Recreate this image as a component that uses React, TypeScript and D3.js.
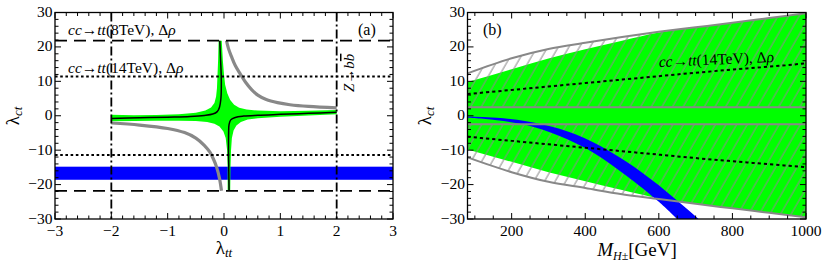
import React from "react";
import * as d3 from "d3";

// ---------- panel (a) : lambda_ct vs lambda_tt ----------
const ttTicks = [-3, -2, -1, 0, 1, 2, 3];
const ctTicks = [-30, -20, -10, 0, 10, 20, 30];

const limit8TeV = 21.8; // cc->tt (8TeV), dashed
const limit14TeV = 11.4; // cc->tt (14TeV), dotted
const zbbLimit = 2; // Z->bb, dash-dot
const blueBandA = [-14.8, -18.6];

const blackLeft: [number, number][] = [
  [-2, -0.8], [-1.5, -0.6], [-1, -0.4], [-0.6, -0.2], [-0.35, 0.1], [-0.2, 0.5],
  [-0.12, 1.2], [-0.08, 2.5], [-0.055, 5], [-0.048, 8], [-0.05, 12], [-0.06, 16], [-0.075, 21.8],
];
const blackRight: [number, number][] = [
  [0.09, -21.8], [0.085, -16], [0.08, -10], [0.082, -5], [0.09, -2.5], [0.12, -1.2],
  [0.2, -0.5], [0.35, -0.1], [0.6, 0.15], [1, 0.4], [1.5, 0.7], [2, 1.0],
];
const grayRight: [number, number][] = [
  [0.044, 21.8], [0.08, 19.5], [0.13, 17.3], [0.2, 14.6], [0.28, 12.4], [0.38, 9.8],
  [0.49, 7.6], [0.6, 6.0], [0.75, 4.7], [0.95, 3.8], [1.17, 3.2], [1.5, 2.7], [2, 2.3],
];
const grayLeft: [number, number][] = [
  [-2, -2.1], [-1.5, -2.7], [-1, -3.7], [-0.7, -4.9], [-0.5, -6.5], [-0.35, -8.6],
  [-0.25, -10.6], [-0.19, -12.5], [-0.13, -15], [-0.08, -18.2], [-0.045, -21.8],
];
const greenStar: [number, number][] = [
  [-0.095, 21.8], [-0.04, 21.8], [-0.02, 16], [0.0, 12], [0.02, 9], [0.06, 6.5], [0.11, 4.6],
  [0.18, 3.2], [0.27, 2.3], [0.4, 1.8], [0.6, 1.5], [1, 1.3], [1.5, 1.45], [2, 1.7],
  [2, 0.4], [1.5, 0.05], [1, -0.3], [0.6, -0.7], [0.42, -1.1], [0.3, -1.8], [0.22, -2.8],
  [0.17, -4.3], [0.14, -6.5], [0.125, -10], [0.115, -15], [0.11, -21.8],
  [0.065, -21.8], [0.065, -15], [0.055, -10], [0.03, -6.5], [-0.01, -4.6], [-0.08, -3.1],
  [-0.17, -2.3], [-0.3, -1.8], [-0.5, -1.55], [-0.8, -1.45], [-1.2, -1.45], [-1.6, -1.55], [-2, -1.6],
  [-2, 0.3], [-1.6, 0.15], [-1.2, 0.2], [-0.8, 0.45], [-0.5, 0.9], [-0.33, 1.5], [-0.23, 2.4],
  [-0.17, 3.7], [-0.14, 5.6], [-0.125, 8], [-0.115, 12], [-0.105, 16],
];

// ---------- panel (b) : lambda_ct vs M_H+- ----------
const massTicks = [200, 400, 600, 800, 1000];
const mass = [80, 200, 300, 400, 500, 600, 700, 800, 900, 1000];
const outerUp = [12.3, 16.7, 19.4, 21.2, 22.9, 24.4, 25.7, 27.0, 28.4, 29.8];
const outerDown = [-12.1, -16.4, -19.2, -21.0, -22.8, -24.2, -25.6, -26.9, -28.2, -29.5];
const greenUp = [9.8, 13.5, 16.6, 19.3, 21.8, 24.2, 25.7, 27.0, 28.4, 29.8];
const greenDown = [-9.8, -13.4, -16.4, -19.0, -21.6, -24.0, -25.6, -26.9, -28.2, -29.5];
const innerBand = 2.5;
const dotted14Up = [6.3, 7.5, 8.5, 9.5, 10.5, 11.5, 12.5, 13.4, 14.3, 15.2];
const dotted14Down = [-6.1, -7.3, -8.3, -9.3, -10.3, -11.3, -12.3, -13.2, -14.1, -14.9];
const blueTopMass = [80, 160, 240, 330, 420, 510, 600, 660, 708];
const blueTop = [-0.2, -0.6, -1.6, -3.8, -7.6, -13.2, -20.2, -25.6, -30];
const blueBotMass = [80, 160, 240, 330, 420, 510, 600, 650];
const blueBot = [-0.6, -1.3, -2.7, -5.9, -10.6, -17.3, -25.0, -30];

const FONT = "'Liberation Serif', 'Times New Roman', Times, serif";
const boxA = { left: 55, right: 393, top: 12.5, bottom: 219 };
const boxB = { left: 467.5, right: 806, top: 12.5, bottom: 219 };

const fmt = (v: number) => String(v).replace("-", "\u2212");

function Frame({ x, y, box, xMajor, xMinor, yMajor, yMinor }: any) {
  const lines: any[] = [];
  const push = (x1: number, y1: number, x2: number, y2: number, k: string) =>
    lines.push(<line key={k} x1={x1} y1={y1} x2={x2} y2={y2} stroke="#000" strokeWidth={1} />);
  xMajor.forEach((t: number, i: number) => {
    push(x(t), box.bottom, x(t), box.bottom - 6, "xb" + i);
    push(x(t), box.top, x(t), box.top + 6, "xt" + i);
  });
  xMinor.forEach((t: number, i: number) => {
    push(x(t), box.bottom, x(t), box.bottom - 3.5, "xmb" + i);
    push(x(t), box.top, x(t), box.top + 3.5, "xmt" + i);
  });
  yMajor.forEach((t: number, i: number) => {
    push(box.left, y(t), box.left + 6, y(t), "yl" + i);
    push(box.right, y(t), box.right - 6, y(t), "yr" + i);
  });
  yMinor.forEach((t: number, i: number) => {
    push(box.left, y(t), box.left + 3.5, y(t), "yml" + i);
    push(box.right, y(t), box.right - 3.5, y(t), "ymr" + i);
  });
  return (
    <g>
      {lines}
      <rect x={box.left} y={box.top} width={box.right - box.left} height={box.bottom - box.top}
        fill="none" stroke="#000" strokeWidth={1.3} />
      {xMajor.map((t: number) => (
        <text key={"xl" + t} x={x(t)} y={box.bottom + 16.5} textAnchor="middle" fontSize={15.5}>{fmt(t)}</text>
      ))}
      {yMajor.map((t: number) => (
        <text key={"yl" + t} x={box.left - 2.5} y={y(t) + 4.5} textAnchor="end" fontSize={15.5}>{fmt(t)}</text>
      ))}
    </g>
  );
}

function PanelA() {
  const x = d3.scaleLinear().domain([-3, 3]).range([boxA.left, boxA.right]);
  const y = d3.scaleLinear().domain([-30, 30]).range([boxA.bottom, boxA.top]);
  const curve = d3.line<[number, number]>().x((d) => x(d[0])).y((d) => y(d[1])).curve(d3.curveCatmullRom.alpha(0.5));
  const poly = d3.line<[number, number]>().x((d) => x(d[0])).y((d) => y(d[1]));
  const xMinor = d3.range(-3, 3.001, 0.2).filter((v) => Math.abs(v - Math.round(v)) > 1e-6);
  const yMinor = d3.range(-30, 30.001, 2).filter((v) => v % 10 !== 0);
  return (
    <g>
      <rect x={x(-3)} y={y(blueBandA[0])} width={x(3) - x(-3)} height={y(blueBandA[1]) - y(blueBandA[0])} fill="#0000ff" />
      <path d={poly(greenStar) + "Z"} fill="#00ff00" />
      <path d={curve(grayRight)!} fill="none" stroke="#888" strokeWidth={3.2} />
      <path d={curve(grayLeft)!} fill="none" stroke="#888" strokeWidth={3.2} />
      <path d={curve(blackLeft)!} fill="none" stroke="#000" strokeWidth={1.5} />
      <path d={curve(blackRight)!} fill="none" stroke="#000" strokeWidth={1.5} />
      {[limit8TeV, -limit8TeV].map((v) => (
        <line key={"d" + v} x1={x(-3)} x2={x(3)} y1={y(v)} y2={y(v)} stroke="#000" strokeWidth={1.8} strokeDasharray="12,7" />
      ))}
      {[limit14TeV, -limit14TeV].map((v) => (
        <line key={"o" + v} x1={x(-3)} x2={x(3)} y1={y(v)} y2={y(v)} stroke="#000" strokeWidth={1.8} strokeDasharray="2.6,2.6" />
      ))}
      {[zbbLimit, -zbbLimit].map((v) => (
        <line key={"z" + v} x1={x(v)} x2={x(v)} y1={y(30)} y2={y(-30)} stroke="#000" strokeWidth={1.8} strokeDasharray="9,3,2,3" />
      ))}
      <Frame x={x} y={y} box={boxA} xMajor={ttTicks} xMinor={xMinor} yMajor={ctTicks} yMinor={yMinor} />
      <text x={68} y={35} fontSize={15.5}>
        <tspan fontStyle="italic">cc</tspan>{"\u2192"}<tspan fontStyle="italic">tt</tspan>(8TeV), {"\u0394"}<tspan fontStyle="italic">{"\u03c1"}</tspan>
      </text>
      <text x={68} y={73} fontSize={15.5}>
        <tspan fontStyle="italic">cc</tspan>{"\u2192"}<tspan fontStyle="italic">tt</tspan>(14TeV), {"\u0394"}<tspan fontStyle="italic">{"\u03c1"}</tspan>
      </text>
      <text x={358} y={35} fontSize={16}>(a)</text>
      <text transform="translate(354,92) rotate(-90)" fontSize={15}>
        <tspan fontStyle="italic">Z</tspan>{"\u2192"}<tspan fontStyle="italic">b</tspan><tspan fontStyle="italic" textDecoration="overline">b</tspan>
      </text>
      <text x={224} y={254} textAnchor="middle" fontSize={19}>
        {"\u03bb"}<tspan fontSize={13} fontStyle="italic" dy={3}>tt</tspan>
      </text>
      <text transform="translate(19,116) rotate(-90)" textAnchor="middle" fontSize={19}>
        {"\u03bb"}<tspan fontSize={13} fontStyle="italic" dy={3}>ct</tspan>
      </text>
    </g>
  );
}

function PanelB() {
  const x = d3.scaleLinear().domain([80, 1000]).range([boxB.left, boxB.right]);
  const y = d3.scaleLinear().domain([-30, 30]).range([boxB.bottom, boxB.top]);
  const idx = mass.map((_, i) => i);
  const band = (lo: (i: number) => number, hi: (i: number) => number) =>
    d3.area<number>().x((i) => x(mass[i])).y0((i) => y(lo(i))).y1((i) => y(hi(i))).curve(d3.curveMonotoneX)(idx)!;
  const line = (vals: number[]) =>
    d3.line<number>().x((_, i) => x(mass[i])).y((v) => y(v)).curve(d3.curveMonotoneX)(vals)!;
  const edge = d3.line<[number, number]>().x((d) => x(d[0])).y((d) => y(d[1])).curve(d3.curveMonotoneX);
  const edgeRev = d3.line<[number, number]>().x((d) => x(d[0])).y((d) => y(d[1])).curve(d3.curveCatmullRom);
  const blueTopPts = blueTopMass.map((m, i) => [m, blueTop[i]] as [number, number]);
  const blueBotPts = blueBotMass.map((m, i) => [m, blueBot[i]] as [number, number]).reverse();
  const bluePath = edge(blueTopPts)! + "L" + edgeRev(blueBotPts)!.slice(1) + "Z";
  const xMinor = d3.range(100, 1000, 50).filter((v) => v % 200 !== 0);
  const yMinor = d3.range(-30, 30.001, 2).filter((v) => v % 10 !== 0);
  return (
    <g>
      <defs>
        <clipPath id="clipB">
          <rect x={boxB.left} y={boxB.top} width={boxB.right - boxB.left} height={boxB.bottom - boxB.top} />
        </clipPath>
        <pattern id="hatch" patternUnits="userSpaceOnUse" width={9.2} height={10} patternTransform="rotate(30)">
          <line x1={1} y1={0} x2={1} y2={10} stroke="#8a8a8a" strokeWidth={1} />
        </pattern>
      </defs>
      <g clipPath="url(#clipB)">
        <path d={band((i) => greenDown[i], (i) => greenUp[i])} fill="#00ff00" />
        <path d={band(() => innerBand, (i) => outerUp[i])} fill="url(#hatch)" />
        <path d={band((i) => outerDown[i], () => -innerBand)} fill="url(#hatch)" />
        <path d={bluePath} fill="#0000ff" />
        <path d={line(outerUp)} fill="none" stroke="#888" strokeWidth={2} />
        <path d={line(outerDown)} fill="none" stroke="#888" strokeWidth={2} />
        {[innerBand, -innerBand].map((v) => (
          <line key={"i" + v} x1={x(80)} x2={x(1000)} y1={y(v)} y2={y(v)} stroke="#888" strokeWidth={2} />
        ))}
        <path d={line(dotted14Up)} fill="none" stroke="#000" strokeWidth={2} strokeDasharray="3.2,3" />
        <path d={line(dotted14Down)} fill="none" stroke="#000" strokeWidth={2} strokeDasharray="3.2,3" />
      </g>
      <Frame x={x} y={y} box={boxB} xMajor={massTicks} xMinor={xMinor} yMajor={ctTicks} yMinor={yMinor} />
      <text x={483} y={35} fontSize={16}>(b)</text>
      <text transform="translate(659,67) rotate(-2.5)" fontSize={15.5}>
        <tspan fontStyle="italic">cc</tspan>{"\u2192"}<tspan fontStyle="italic">tt</tspan>(14TeV), {"\u0394"}<tspan fontStyle="italic">{"\u03c1"}</tspan>
      </text>
      <text x={637} y={256} textAnchor="middle" fontSize={19}>
        <tspan fontStyle="italic">M</tspan>
        <tspan fontSize={12} dy={4}><tspan fontStyle="italic">H</tspan>{"\u00b1"}</tspan>
        <tspan dy={-4}>[GeV]</tspan>
      </text>
      <text transform="translate(431,116) rotate(-90)" textAnchor="middle" fontSize={19}>
        {"\u03bb"}<tspan fontSize={13} fontStyle="italic" dy={3}>ct</tspan>
      </text>
    </g>
  );
}

export default function App() {
  return (
    <svg width={830} height={268} style={{ position: "absolute", left: 0, top: 0, background: "#fff", fontFamily: FONT }}>
      <PanelA />
      <PanelB />
    </svg>
  );
}
